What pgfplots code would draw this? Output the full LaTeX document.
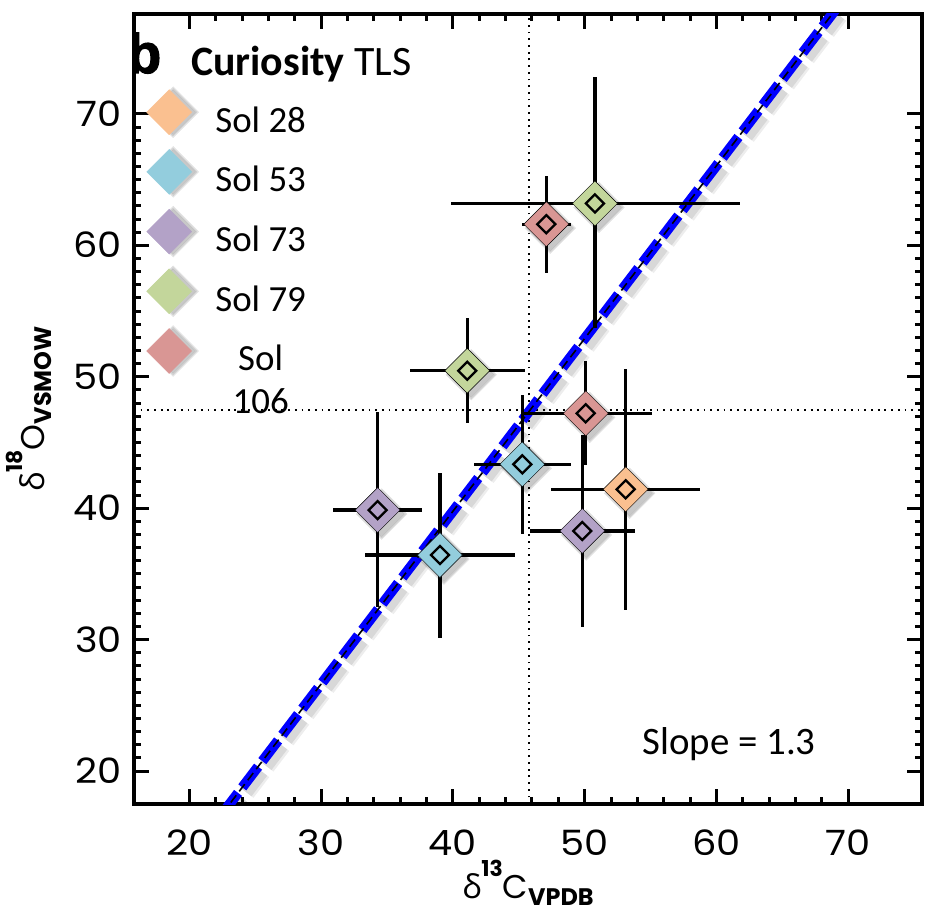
\documentclass[border=0pt]{standalone}
\usepackage{pgfplots}
\pgfplotsset{compat=1.18}
\usepackage{pgfplotstable}
\usepackage{fontspec}
\setmainfont{Carlito}
\newfontfamily\popfont{Poppins}
\newfontfamily\popwide{Poppins}[FakeStretch=1.1]
\newfontfamily\greekfont{Open Sans}
\newfontfamily\heavyfont{Liberation Sans}[BoldFeatures={FakeBold=2}]

\definecolor{sol28}{RGB}{250,192,144}
\definecolor{sol53}{RGB}{147,205,221}
\definecolor{sol73}{RGB}{179,162,199}
\definecolor{sol79}{RGB}{195,214,155}
\definecolor{sol106}{RGB}{217,150,148}

% isotope ratios with asymmetric 1-sigma uncertainties
\pgfplotstableread{
x     y     exm   exp   eym   eyp
53.11 41.44 5.69  5.64  9.18  9.15
}\tabSolA
\pgfplotstableread{
x     y     exm   exp   eym   eyp
45.27 43.34 3.65  3.69  5.30  5.27
39.02 36.44 5.69  5.69  6.33  6.21
}\tabSolB
\pgfplotstableread{
x     y     exm   exp   eym   eyp
34.29 39.86 3.36  3.39  7.35  7.43
49.82 38.27 3.97  4.00  7.28  7.30
}\tabSolC
\pgfplotstableread{
x     y     exm   exp   eym   eyp
50.78 63.19 10.95 11.00 9.51  9.58
41.09 50.46 4.34  4.38  4.00  3.98
}\tabSolD
\pgfplotstableread{
x     y     exm   exp   eym   eyp
47.09 61.61 1.87  1.87  3.70  3.65
50.08 47.22 4.86  5.00  3.93  4.00
}\tabSolE

% soft drop shadow under the diamonds
\newcommand{\shadowplot}[1]{%
  \addplot[forget plot, only marks, mark=square*, mark size=18bp,
    mark options={xshift=4bp, yshift=-4bp, rotate=45, draw=none, fill=black, opacity=0.08}]
    table[x=x, y=y] {#1};
  \addplot[forget plot, only marks, mark=square*, mark size=17bp,
    mark options={xshift=4bp, yshift=-4bp, rotate=45, draw=none, fill=black, opacity=0.08}]
    table[x=x, y=y] {#1};
  \addplot[forget plot, only marks, mark=square*, mark size=16bp,
    mark options={xshift=4bp, yshift=-4bp, rotate=45, draw=none, fill=black, opacity=0.08}]
    table[x=x, y=y] {#1};}
\newcommand{\diamondplot}[2]{%
  \addplot[forget plot, only marks, mark=square*, mark size=15.9bp,
    mark options={rotate=45, draw=none, fill=#2}]
    table[x=x, y=y] {#1};}
\newcommand{\errplot}[1]{%
  \addplot[forget plot, only marks, mark=square, mark size=6.4bp,
    mark options={rotate=45, line width=2.3bp, draw=black, fill=none, solid},
    error bars/.cd, x dir=both, x explicit, y dir=both, y explicit,
    error bar style={line width=3.3bp, black, solid}, error mark=none]
    table[x=x, y=y, x error minus=exm, x error plus=exp,
          y error minus=eym, y error plus=eyp] {#1};}

\newcommand{\isolabel}[4]{{\greekfont #1}\raisebox{22bp}{\popfont\fontsize{22}{22}\selectfont\bfseries #2}{\popfont #3}\raisebox{-7bp}{\popfont\fontsize{24}{24}\selectfont\bfseries #4}}

\pgfplotsset{
  solkey/.style={legend image code/.code={
    \path[draw=none, fill=none] (0bp,-25.5bp) rectangle (45bp,34bp);
    \begin{scope}[overlay]
      \fill[black, opacity=0.08] (26.5bp,-14bp) -- ++(25.5bp,25.5bp) -- ++(-25.5bp,25.5bp) -- ++(-25.5bp,-25.5bp) -- cycle;
      \fill[black, opacity=0.08] (26.5bp,-12.5bp) -- ++(24bp,24bp) -- ++(-24bp,24bp) -- ++(-24bp,-24bp) -- cycle;
      \fill[black, opacity=0.08] (26.5bp,-11bp) -- ++(22.5bp,22.5bp) -- ++(-22.5bp,22.5bp) -- ++(-22.5bp,-22.5bp) -- cycle;
    \end{scope}
    \fill[#1] (22.5bp,-11bp) -- ++(22.5bp,22.5bp) -- ++(-22.5bp,22.5bp) -- ++(-22.5bp,-22.5bp) -- cycle;
  }},
}

\begin{document}
\begin{tikzpicture}
\begin{axis}[
  scale only axis, width=788bp, height=790bp,
  xmin=15.8, xmax=75.6, ymin=17.5, ymax=77.6,
  xtick={20,30,...,70}, ytick={20,30,...,70},
  minor x tick num=4, minor y tick num=9,
  tick align=inside,
  major tick length=15bp, minor tick length=7bp,
  tick style={black, line width=3bp},
  axis line style={line width=4bp},
  /pgf/number format/assume math mode=true,
  tick label style={font=\popwide\fontsize{35}{35}\selectfont},
  xticklabel style={inner sep=0pt, anchor=north, yshift=-26bp, text height=25bp, text depth=0pt},
  yticklabel style={inner sep=0pt, anchor=east, xshift=-12bp, text height=25bp, text depth=0pt},
  xlabel={\isolabel{δ}{13}{C}{VPDB}},
  ylabel={\isolabel{δ}{18}{O}{VSMOW}},
  label style={font=\popfont\fontsize{33}{33}\selectfont, inner sep=0pt},
  xlabel style={at={(axis description cs:0.5,0)}, anchor=base, yshift=-94bp},
  ylabel style={at={(axis description cs:0,0.5)}, anchor=base, yshift=89bp},
  legend style={at={(axis description cs:0,1)}, anchor=north west,
    xshift=12.5bp, yshift=-75.5bp, draw=none, fill=none,
    inner sep=0pt, outer sep=0pt, row sep=0pt, column sep=23.5bp,
    font=\fontsize{37}{43}\selectfont,
    nodes={inner sep=0pt, text height=26bp, text depth=9bp}},
  legend cell align=center,
]

% shadows
\shadowplot{\tabSolA}
\shadowplot{\tabSolB}
\shadowplot{\tabSolC}
\shadowplot{\tabSolD}
\shadowplot{\tabSolE}

% coloured diamonds
\diamondplot{\tabSolA}{sol28}
\diamondplot{\tabSolB}{sol53}
\diamondplot{\tabSolC}{sol73}
\diamondplot{\tabSolD}{sol79}
\diamondplot{\tabSolE}{sol106}

% reference lines
\addplot[forget plot, black, line width=1.8bp, dash pattern=on 1.8bp off 4.9bp]
  coordinates {(45.8,17.5) (45.8,77.6)};
\addplot[forget plot, black, line width=1.8bp, dash pattern=on 1.8bp off 4.9bp]
  coordinates {(15.8,47.5) (75.6,47.5)};

% fitted line, slope 1.3
\addplot[forget plot, black, opacity=0.07, line width=18bp, dash pattern=on 26bp off 7bp, xshift=4bp, yshift=-5bp]
  coordinates {(22.5,16.77) (69.0,77.88)};
\addplot[forget plot, black, opacity=0.09, line width=13bp, dash pattern=on 26bp off 7bp, xshift=4bp, yshift=-5bp]
  coordinates {(22.5,16.77) (69.0,77.88)};
\addplot[forget plot, blue, line width=10bp, dash pattern=on 26bp off 7bp]
  coordinates {(22.5,16.77) (69.0,77.88)};
\addplot[forget plot, black, line width=1.6bp, dash pattern=on 9bp off 5bp]
  coordinates {(22.5,16.77) (69.0,77.88)};

% error bars
\errplot{\tabSolA}
\errplot{\tabSolB}
\errplot{\tabSolC}
\errplot{\tabSolD}
\errplot{\tabSolE}

\addlegendimage{solkey=sol28}  \addlegendentry{Sol 28}
\addlegendimage{solkey=sol53}  \addlegendentry{Sol 53}
\addlegendimage{solkey=sol73}  \addlegendentry{Sol 73}
\addlegendimage{solkey=sol79}  \addlegendentry{Sol 79}
\addlegendimage{solkey=sol106} \addlegendentry{\begin{tabular}[t]{@{}c@{}}Sol\\106\end{tabular}}

\node[anchor=base west, inner sep=0pt, xshift=-7bp, yshift=-59bp,
  font=\heavyfont\bfseries\fontsize{56}{56}\selectfont] at (rel axis cs:0,1) {b};
\node[anchor=base west, inner sep=0pt, xshift=57bp, yshift=-62bp,
  font=\fontsize{42}{42}\selectfont] at (rel axis cs:0,1) {\textbf{Curiosity} TLS};
\node[anchor=base, inner sep=0pt, font=\fontsize{39}{39}\selectfont]
  at (axis cs:60.96,21.23) {Slope = 1.3};
\end{axis}
\pgfresetboundingbox
\path[use as bounding box] (-134bp,-108bp) rectangle (791bp,804bp);
\end{tikzpicture}
\end{document}
